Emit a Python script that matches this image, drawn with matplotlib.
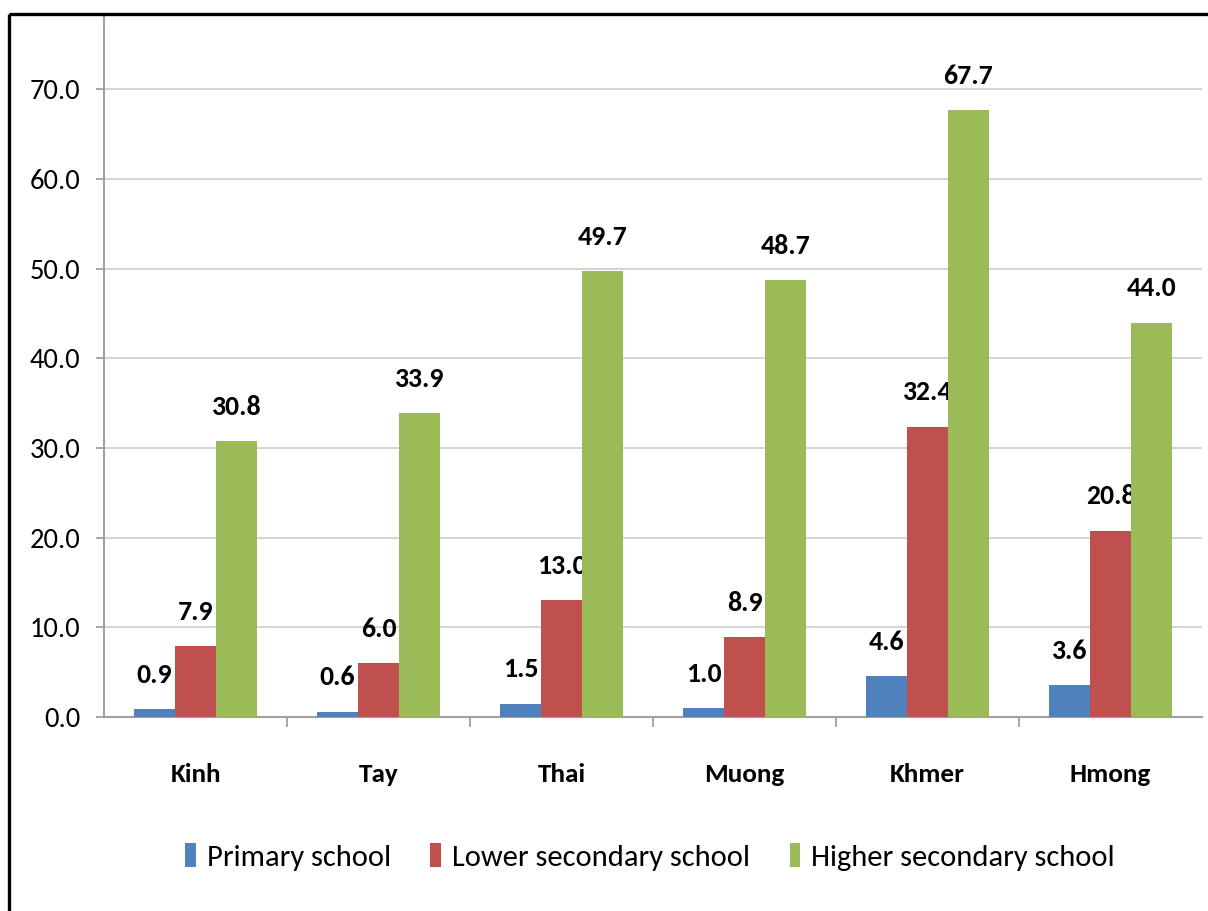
import matplotlib
matplotlib.use("Agg")
import matplotlib.pyplot as plt
from matplotlib.lines import Line2D
from matplotlib.ticker import FormatStrFormatter
import numpy as np

groups = ["Kinh", "Tay", "Thai", "Muong", "Khmer", "Hmong"]
primary = [0.9, 0.6, 1.5, 1.0, 4.6, 3.6]
lower_sec = [7.9, 6.0, 13.0, 8.9, 32.4, 20.8]
higher_sec = [30.8, 33.9, 49.7, 48.7, 67.7, 44.0]
series_names = ["Primary school", "Lower secondary school", "Higher secondary school"]
colors = ["#4F81BD", "#C0504D", "#9BBB59"]

plt.rcParams["font.family"] = ["Carlito", "IBM Plex Sans Condensed", "DejaVu Sans"]

fig = plt.figure(figsize=(12.08, 9.11), dpi=100)
ax = fig.add_axes([104 / 1208, 1 - 717 / 911, 1098 / 1208, 702 / 911])

x = np.arange(len(groups))
w = 0.224
for i, (vals, name, c) in enumerate(zip([primary, lower_sec, higher_sec], series_names, colors)):
    bars = ax.bar(x + (i - 1) * w, vals, width=w, color=c, label=name, zorder=3)
    for b, v in zip(bars, vals):
        ax.annotate(f"{v:.1f}", (b.get_x() + b.get_width() / 2, v),
                    xytext=(0, 16), textcoords="offset points",
                    ha="center", va="bottom", fontsize=20, fontweight="bold")

ax.set_xlim(-0.5, len(groups) - 0.5)
ax.set_ylim(0, 78.3)
ax.set_yticks(np.arange(0, 71, 10))
ax.yaxis.set_major_formatter(FormatStrFormatter("%.1f"))
ax.grid(axis="y", color="#d4d4d4", lw=1.4, zorder=0)

ax.set_xticks(x)
ax.set_xticklabels(groups, fontsize=19.5, fontweight="bold")
ax.set_xticks(np.arange(0.5, len(groups) - 0.5, 1), minor=True)
ax.tick_params(axis="x", which="major", length=0, pad=33)
ax.tick_params(axis="x", which="minor", length=7, width=1.3, color="#a0a0a0")
ax.tick_params(axis="y", length=6, width=1.3, color="#a0a0a0", pad=11, labelsize=20.5)

for s in ["top", "right"]:
    ax.spines[s].set_visible(False)
for s in ["left", "bottom"]:
    ax.spines[s].set_color("#a0a0a0")
    ax.spines[s].set_linewidth(1.5)

fig.legend(loc="center", bbox_to_anchor=(0.538, 1 - 857 / 911), ncol=3, frameon=False,
           fontsize=22, handlelength=0.35, handleheight=0.8, handletextpad=0.35,
           columnspacing=1.3)

# outer frame: left and top edges only
fx = 8.5 / 1208
fy = 1 - 14 / 911
fig.add_artist(Line2D([fx, fx], [-0.02, fy], transform=fig.transFigure, color="black", lw=2.4,
                      solid_capstyle="butt"))
fig.add_artist(Line2D([fx, 1.02], [fy, fy], transform=fig.transFigure, color="black", lw=2.4,
                      solid_capstyle="butt"))

fig.savefig("out.png", dpi=100)
